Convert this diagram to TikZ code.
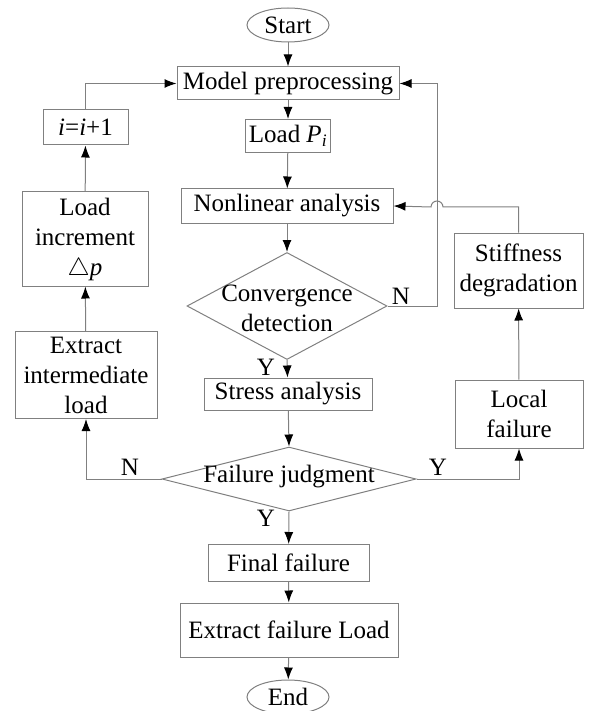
\documentclass[tikz,border=0pt]{standalone}
\usepackage{fontspec}
\setmainfont{Liberation Serif}
\usetikzlibrary{arrows.meta,shapes.geometric}
\definecolor{flowedge}{HTML}{808080}

\begin{document}
\begin{tikzpicture}[
  x=1pt,
  y=-1pt,
  line join=miter,
  font=\fontsize{25}{30}\selectfont,
  stepbox/.style={draw=flowedge,line width=1pt,inner sep=0pt,align=center},
  terminal/.style={draw=flowedge,line width=1pt,ellipse,inner sep=0pt,
    minimum width=82pt,minimum height=34pt},
  decision/.style={draw=flowedge,line width=1pt,diamond,inner sep=0pt},
  flow/.style={draw=flowedge,line width=1pt,-{Latex[length=12pt,width=9pt,color=black]}},
  branch/.style={inner sep=0pt}
]
  \useasboundingbox (0,0) rectangle (589,711);

  % Main column, top to bottom.
  \node[terminal] (start) at (288,25) {Start};
  \node[stepbox,minimum width=222pt,minimum height=33pt] (model) at (288,83.5) {Model preprocessing};
  \node[stepbox,minimum width=85pt,minimum height=33pt] (loadp) at (288,136) {Load \textit{P}\textsubscript{\textit{i}}};
  \node[stepbox,minimum width=212pt,minimum height=34pt] (nonlin) at (287,206) {Nonlinear analysis};
  \node[decision,minimum width=200pt,minimum height=107pt] (conv) at (287,306) {};
  \node[align=center,inner sep=0pt] (convtext) at (287,308) {Convergence\\detection};
  \node[stepbox,minimum width=168pt,minimum height=32pt] (stress) at (288,394) {Stress analysis};
  \node[decision,minimum width=254pt,minimum height=64pt] (fail) at (289,479) {};
  \node[inner sep=0pt] (failtext) at (289,477) {Failure judgment};
  \node[stepbox,minimum width=161pt,minimum height=37pt] (final) at (288.5,563) {Final failure};
  \node[stepbox,minimum width=218pt,minimum height=54pt] (extload) at (289,630) {Extract failure Load};
  \node[terminal] (end) at (288,697) {End};

  % Left column: load stepping.
  \node[stepbox,minimum width=85pt,minimum height=35pt] (inc) at (85.5,127.5) {\textit{i}=\textit{i}+1};
  \node[stepbox,minimum width=126pt,minimum height=94pt] (incr) at (85,239) {Load\\increment\\$\triangle$\textit{p}};
  \node[stepbox,minimum width=142pt,minimum height=87pt] (extr) at (86,375) {Extract\\intermediate\\load};

  % Right column: damage update.
  \node[stepbox,minimum width=129pt,minimum height=75pt] (stiff) at (518.5,270.5) {Stiffness\\degradation};
  \node[stepbox,minimum width=128pt,minimum height=68pt] (local) at (519,414) {Local\\failure};

  % Turning points of the feedback lines.
  \coordinate (nturn) at (437,83.5);
  \coordinate (hop) at (443,207);

  % Straight flow down the middle.
  \draw[flow] (start) -- (model);
  \draw[flow] (model) -- (loadp);
  \draw[flow] (loadp) -- (nonlin);
  \draw[flow] (nonlin) -- (conv.north);
  \draw[flow] (conv.south) -- (stress);
  \draw[flow] (stress) -- (fail.north);
  \draw[flow] (fail.south) -- (final);
  \draw[flow] (final) -- (extload);
  \draw[flow] (extload) -- (end);

  % Not converged: back to the model.
  \draw[flow] (conv.east) -| (nturn) -- (model.east);

  % Not failed: next load step.
  \draw[flow] (fail.west) -| (extr.south);
  \draw[flow] (extr) -- (incr);
  \draw[flow] (incr) -- (inc);
  \draw[flow] (inc.north) |- (model.west);

  % Local failure: degrade stiffness and rerun, hopping over the N line.
  \draw[flow] (fail.east) -| (local.south);
  \draw[flow] (local) -- (stiff);
  \draw[flow] (stiff.north) |- (hop) arc[start angle=0,end angle=180,radius=6pt] -- (nonlin.east);

  % Branch labels.
  \node[branch] (convno) at (401,296) {N};
  \node[branch] (convyes) at (266,367) {Y};
  \node[branch] (failno) at (130,467) {N};
  \node[branch] (failyes) at (438,467) {Y};
  \node[branch] (finalyes) at (266,518) {Y};
\end{tikzpicture}
\end{document}
